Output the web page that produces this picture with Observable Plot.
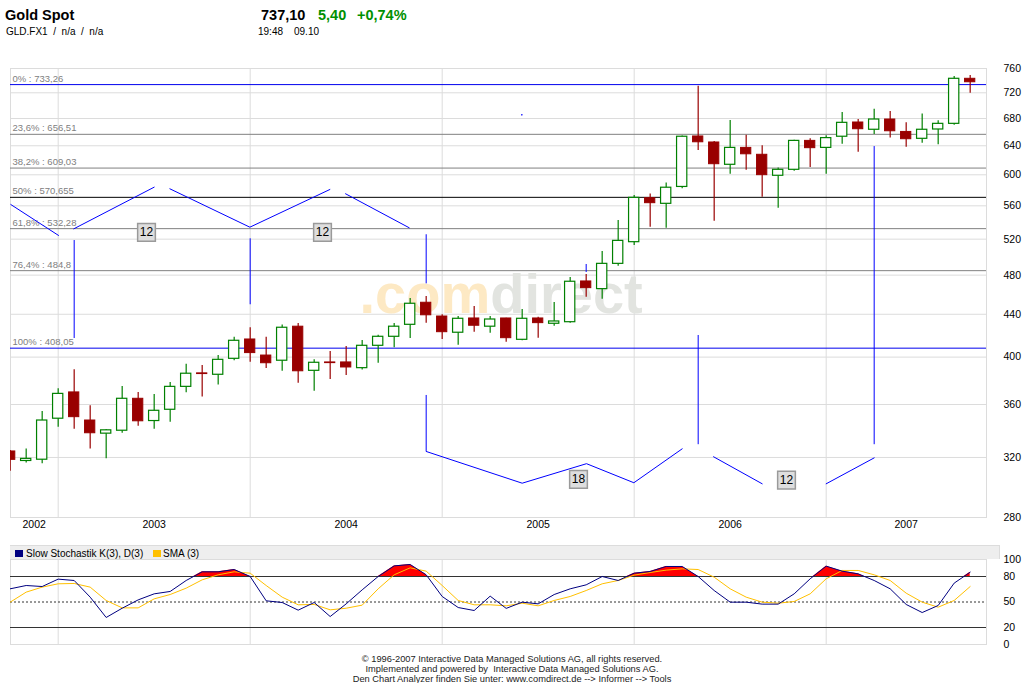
<!DOCTYPE html>
<html><head><meta charset="utf-8">
<script src="https://cdn.jsdelivr.net/npm/d3@7"></script>
<script src="https://cdn.jsdelivr.net/npm/@observablehq/plot@0.6"></script>
<style>
html,body{margin:0;padding:0;background:#fff;}
#wrap{position:relative;width:1024px;height:683px;overflow:hidden;background:#fff;font-family:"Liberation Sans",Arial,sans-serif;color:#000}
.abs{position:absolute;white-space:pre;line-height:1}
</style></head><body><div id="wrap"></div>
<script>
// ---- Monthly Gold Spot candles, Oct 2002 .. Oct 2007 (index = month number) ----
const open  = [324.3,317.5,318.4,348.8,369.8,347.4,337.4,339.6,364.6,347.0,355.8,374.4,385.8,384.6,398.5,416.0,401.4,396.8,428.0,388.0,395.3,395.3,390.3,410.2,418.5,429.8,451.4,437.8,422.3,435.9,428.0,435.9,415.7,435.9,430.8,432.3,473.3,465.3,492.2,516.5,569.6,562.5,584.0,653.4,644.7,613.5,637.0,627.3,598.7,606.7,647.0,637.0,653.0,674.0,663.2,678.5,660.0,650.0,663.6,672.0,742.8];
const high  = [325.0,326.0,354.5,372.8,389.0,359.0,340.5,374.7,369.8,368.0,378.0,393.8,392.6,401.4,418.0,427.0,418.0,429.5,431.0,397.6,405.0,409.6,415.0,420.0,431.0,455.7,457.8,439.4,437.8,447.7,437.8,436.0,444.7,437.0,451.7,477.5,480.6,506.0,542.0,573.0,575.0,589.0,654.0,730.7,646.0,677.0,655.0,640.0,609.0,648.0,650.0,654.4,689.0,678.5,694.3,690.7,673.5,687.0,676.6,746.6,748.3];
const low   = [310.3,316.0,315.6,342.3,340.8,326.0,319.0,337.7,343.0,340.8,346.0,369.5,366.0,376.0,396.8,395.5,390.0,387.6,377.5,370.8,380.6,384.0,388.6,394.6,408.4,417.0,431.4,416.0,410.8,422.8,421.9,413.5,414.9,417.2,428.5,431.4,457.0,455.0,489.6,512.7,534.0,532.7,581.7,633.3,541.0,600.8,606.0,570.8,557.0,604.8,609.8,600.8,642.3,631.0,656.3,651.0,638.0,643.7,641.4,670.0,719.4];
const close = [318.3,319.0,347.4,368.6,350.0,337.7,339.9,364.6,346.8,355.0,374.4,385.5,385.2,397.6,414.8,403.6,394.6,427.0,387.6,395.0,394.7,390.9,410.2,418.5,428.0,450.4,439.0,422.8,435.6,428.9,434.9,417.2,435.6,431.4,433.0,473.0,466.3,492.2,518.0,570.0,563.3,583.0,653.0,645.0,614.3,637.0,628.0,599.5,606.7,647.0,636.6,651.0,673.5,664.0,678.5,661.0,649.4,663.2,672.0,742.8,737.1];

// ---- Slow stochastic K(3) and its SMA(3) ----
const stochK = [65.5,69.4,68.2,76.9,75.3,55.7,31.8,42.7,52.5,59.6,62.4,75.3,85.5,85.5,88.2,80.0,51.4,49.4,40.4,49.4,32.9,47.8,64.3,80.0,92.5,94.1,82.0,56.5,43.5,40.0,56.9,42.5,49.8,47.8,58.8,65.5,70.2,80.0,75.3,83.9,85.9,91.8,91.8,80.0,63.5,49.8,49.8,47.5,47.5,59.6,77.3,92.2,86.3,83.1,75.3,65.5,47.1,37.6,45.9,72.2,85.1];
const stochD = [49.8,61.6,67.5,71.4,71.8,67.5,51.8,43.1,43.1,53.7,58.8,66.3,76.1,82.0,85.5,83.9,69.4,55.7,46.7,47.1,40.8,42.7,46.3,65.5,82.0,90.2,86.3,69.4,51.8,46.7,46.7,45.5,48.6,45.5,51.8,56.5,63.5,71.4,75.3,81.6,84.7,87.5,89.0,88.2,79.2,65.5,55.7,49.8,48.6,50.6,59.6,77.3,87.1,87.1,82.0,75.3,60.4,49.8,43.9,51.8,68.2];

// ---- Axes ----
const years = ["2002","2003","2004","2005","2006","2007"];
const yearStarts = [0,3,15,27,39,51];   // month index of first visible month of each year
const lastMonth = 61;
const priceTicks = [280,320,360,400,440,480,520,560,600,640,680,720,760];
const stochTicks = [0,20,50,80,100];

// ---- Fibonacci retracement levels ----
const fibNames  = ["0%","23,6%","38,2%","50%","61,8%","76,4%","100%"];
const fibValues = [733.26,656.51,609.03,570.655,532.28,484.8,408.05];
const fibText   = ["733,26","656,51","609,03","570,655","532,28","484,8","408,05"];
const fibColors = ["#0000ee","#808080","#808080","#000000","#808080","#808080","#0000ee"];

// ---- Cycle annotations (month index, price) ----
const cycleSegIds  = ["a","a","b","b","c","c","c","d","d","e","e","e","e","e","f","f","g","g"];
const cycleSegX    = [0.04,3.02, 3.98,9.0, 9.98,14.98,19.98, 20.96,24.94, 26,32,36.02,38.98,42.0, 43.96,47.0, 51.0,54.0];
const cycleSegY    = [561.6,524.3, 532.1,583.7, 581.6,534.0,580.7, 575.2,533.3, 324.3,302.2,315.6,302.5,326.2, 320.5,301.8, 301.8,319.7];
const cycleRuleX   = [4,15,26,26,43,54,36];
const cycleRuleLo  = [416.9,449.4,470.8,324.3,329.2,329.2,482.8];
const cycleRuleHi  = [518.4,520.4,525.1,367.3,419.7,638.9,491.5];
const cycleBoxText = ["12","12","18","12"];
const cycleBoxX    = [8.52,19.52,35.52,48.52];
const cycleBoxY    = [528.0,528.0,304.8,304.3];
const strayDotX = [31.98], strayDotY = [685.6];

// ---------------------------------------------------------------
const FONT = "Liberation Sans, Arial, sans-serif";
const GREEN = "#008000", RED = "#990000", GRID = "#dcdcdc";
const xDomain = [0.02, 61.02];
const candles = open.map((o,i)=>({i, o, h:high[i], l:low[i], c:close[i], up: close[i] >= o}));
const ups = candles.filter(d=>d.up), downs = candles.filter(d=>!d.up);
const yearCenters = yearStarts.map((s,k)=>(s + (k < yearStarts.length-1 ? yearStarts[k+1] : lastMonth))/2);
const janIdx = yearStarts.filter(s=>s>0);
const fibs = fibValues.map((v,k)=>({v, label: fibNames[k] + " : " + fibText[k], color: fibColors[k]}));
const segPts = cycleSegX.map((x,k)=>({x, y: cycleSegY[k], seg: cycleSegIds[k]}));
const rules = cycleRuleX.map((x,k)=>({x, y1: cycleRuleLo[k], y2: cycleRuleHi[k]}));
const boxes = cycleBoxText.map((t,k)=>({t, x: cycleBoxX[k], y: cycleBoxY[k]}));
const strays = strayDotX.map((x,k)=>({x, y: strayDotY[k]}));

const wrap = document.getElementById("wrap");

const main = Plot.plot({
  width: 1024, height: 480,
  marginTop: 13, marginBottom: 18, marginLeft: 10, marginRight: 38,
  x: {domain: xDomain, axis: null},
  y: {type: "log", domain: [280, 760], axis: null},
  style: {background: "transparent", fontFamily: FONT, fontSize: "10.5px", color: "#000", overflow: "visible"},
  marks: [
    Plot.ruleY(priceTicks, {stroke: GRID}),
    Plot.ruleX(janIdx, {stroke: GRID}),
    Plot.frame({stroke: GRID}),
    Plot.text([".com"], {x: 30.0, y: 459, text: d=>d, textAnchor: "end", fontSize: 56, fontWeight: "bold", fill: "#fde9c4"}),
    Plot.text(["direct"], {x: 30.0, y: 459, text: d=>d, textAnchor: "start", fontSize: 56, fontWeight: "bold", fill: "#e2e4e0"}),
    Plot.ruleY(fibs, {y: "v", stroke: d=>d.color}),
    Plot.text(fibs, {x: xDomain[0], y: "v", text: "label", textAnchor: "start", dx: 2, dy: -6, fill: "#808080", fontSize: 9.5}),
    Plot.ruleX(ups, {x: "i", y1: "l", y2: "h", stroke: GREEN, strokeWidth: 1.2, clip: true}),
    Plot.ruleX(downs, {x: "i", y1: "l", y2: "h", stroke: RED, strokeWidth: 1.2, clip: true}),
    Plot.rect(ups, {x1: d=>d.i-0.32, x2: d=>d.i+0.32, y1: "o", y2: "c", fill: "#fff", stroke: GREEN, strokeWidth: 1.2, clip: true}),
    Plot.rect(downs, {x1: d=>d.i-0.32, x2: d=>d.i+0.32, y1: "o", y2: "c", fill: RED, stroke: RED, strokeWidth: 1, clip: true}),
    Plot.line(segPts, {x: "x", y: "y", z: "seg", stroke: "#0000ff", strokeWidth: 1}),
    Plot.ruleX(rules, {x: "x", y1: "y1", y2: "y2", stroke: "#0000ff", strokeWidth: 1}),
    Plot.dot(strays, {x: "x", y: "y", r: 0.8, fill: "#0000ff"}),
    Plot.dot(boxes, {x: "x", y: "y", symbol: "square", r: 10, fill: "#dedede", stroke: "#9a9a9a"}),
    Plot.text(boxes, {x: "x", y: "y", text: "t", fontSize: 12, fill: "#000"}),
    Plot.text(priceTicks, {y: d=>d, frameAnchor: "right", dx: 17, textAnchor: "start", text: d=>String(d), fontSize: 10.5}),
    Plot.text(years, {x: (d,k)=>yearCenters[k], frameAnchor: "bottom", lineAnchor: "top", dy: 3, text: d=>d, fontSize: 10.5})
  ]
});
main.style.position = "absolute"; main.style.left = "0px"; main.style.top = "55px";
wrap.appendChild(main);

// stochastic panel
const kRows = stochK.map((v,i)=>({i, v}));
const dRows = stochD.map((v,i)=>({i, v}));
const fillPts = [];
stochK.forEach((v,i)=>{
  if (i > 0) {
    const p = stochK[i-1];
    if ((p-80)*(v-80) < 0) fillPts.push({x: i-1 + (80-p)/(v-p), y: 80, b: 80});
  }
  fillPts.push({x: i, y: Math.max(v, 80), b: 80});
});

const stoch = Plot.plot({
  width: 1024, height: 110,
  marginTop: 19, marginBottom: 6, marginLeft: 10, marginRight: 38,
  x: {domain: xDomain, axis: null},
  y: {domain: [0, 100], axis: null},
  style: {background: "transparent", fontFamily: FONT, fontSize: "10.5px", color: "#000", overflow: "visible"},
  marks: [
    Plot.ruleX(janIdx, {stroke: GRID}),
    Plot.frame({stroke: GRID}),
    Plot.areaY(fillPts, {x: "x", y1: "b", y2: "y", fill: "#ff0000", clip: true}),
    Plot.ruleY([80, 20], {stroke: "#333"}),
    Plot.ruleY([50], {stroke: "#333", strokeDasharray: "2,2"}),
    Plot.line(dRows, {x: "i", y: "v", stroke: "#ffc000", strokeWidth: 1, clip: true}),
    Plot.line(kRows, {x: "i", y: "v", stroke: "#000080", strokeWidth: 1, clip: true}),
    Plot.text(stochTicks, {y: d=>d, frameAnchor: "right", dx: 17, textAnchor: "start", text: d=>String(d), fontSize: 10.5})
  ]
});
stoch.style.position = "absolute"; stoch.style.left = "0px"; stoch.style.top = "540px";
wrap.appendChild(stoch);

// HTML text: header, legend band, footer
function add(html, css){ const d = document.createElement("div"); d.className = "abs"; d.innerHTML = html; Object.assign(d.style, css); wrap.appendChild(d); return d; }
add("Gold Spot", {left:"5px", top:"8px", fontSize:"14.5px", fontWeight:"bold"});
add("GLD.FX1  /  n/a  /  n/a", {left:"6px", top:"27px", fontSize:"10px"});
add("737,10", {left:"261px", top:"8px", fontSize:"14.5px", fontWeight:"bold"});
add("5,40", {left:"318px", top:"8px", fontSize:"14.5px", fontWeight:"bold", color:"#009000"});
add("+0,74%", {left:"357px", top:"8px", fontSize:"14.5px", fontWeight:"bold", color:"#009000"});
add("19:48", {left:"258px", top:"27px", fontSize:"10px"});
add("09.10", {left:"294px", top:"27px", fontSize:"10px"});

const band = add("", {left:"10px", top:"545px", width:"990px", height:"14px", background:"#eeeeee", borderTop:"1px solid #dcdcdc", borderRight:"1px solid #dcdcdc", boxSizing:"border-box"});
add("", {left:"15px", top:"550px", width:"8px", height:"7px", background:"#000080"});
add("Slow Stochastik K(3), D(3)", {left:"26px", top:"549px", fontSize:"10px"});
add("", {left:"153px", top:"550px", width:"8px", height:"7px", background:"#ffc000"});
add("SMA (3)", {left:"163px", top:"549px", fontSize:"10px"});

const foot = add("© 1996-2007 Interactive Data Managed Solutions AG, all rights reserved.\nImplemented and powered by  Interactive Data Managed Solutions AG.\nDen Chart Analyzer finden Sie unter: www.comdirect.de --> Informer --> Tools",
  {left:"0px", top:"654px", width:"1024px", textAlign:"center", fontSize:"9.3px", lineHeight:"10px", color:"#222"});
</script>
</body></html>
